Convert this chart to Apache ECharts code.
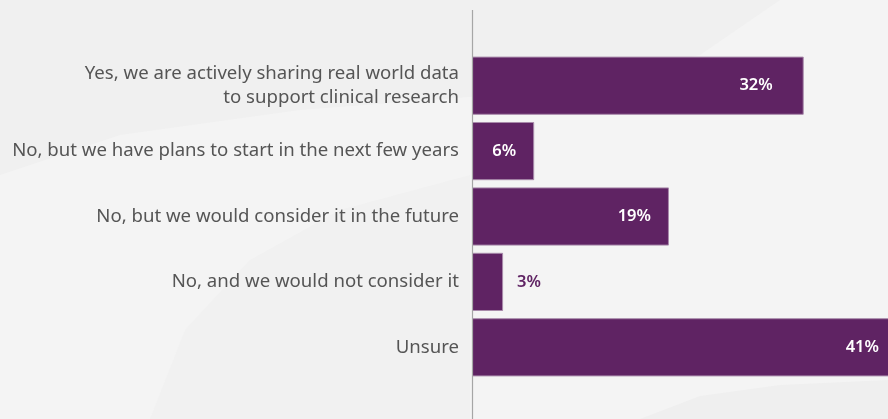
<!DOCTYPE html>
<html>
<head>
<meta charset="utf-8">
<script src="https://cdn.jsdelivr.net/npm/echarts@6/dist/echarts.min.js"></script>
<style>
  html, body { margin: 0; padding: 0; background: #f4f4f4; }
  #chart { width: 888px; height: 419px; }
</style>
</head>
<body>
<div id="chart"></div>
<script>
const categories = [
  'Yes, we are actively sharing real world data\nto support clinical research',
  'No, but we have plans to start in the next few years',
  'No, but we would consider it in the future',
  'No, and we would not consider it',
  'Unsure'
]
const shares = [32, 6, 19, 3, 41]

const purple = '#5f2363'

const chart = echarts.init(document.getElementById('chart'))

chart.setOption({
  backgroundColor: '#f4f4f4',
  animation: false,
  textStyle: { fontFamily: 'Noto Sans' },
  graphic: [
    // faint background swooshes
    {
      type: 'polygon',
      z: -10,
      shape: { points: [[0, 0], [780, 0], [700, 55], [560, 90], [300, 110], [120, 135], [0, 175]] },
      style: { fill: '#f0f0f0' }
    },
    {
      type: 'polygon',
      z: -10,
      shape: { points: [[150, 419], [185, 330], [250, 260], [340, 210], [470, 175], [470, 419]] },
      style: { fill: '#f1f1f1' }
    },
    {
      type: 'polygon',
      z: -10,
      shape: { points: [[640, 419], [700, 396], [780, 385], [888, 380], [888, 419]] },
      style: { fill: '#efefef' }
    },
    // vertical axis line
    {
      type: 'line',
      z: 10,
      shape: { x1: 472.5, y1: 10, x2: 472.5, y2: 419 },
      style: { stroke: '#a6a6a6', lineWidth: 1.2 }
    }
  ],
  grid: {
    left: 472,
    right: -9,
    top: 53,
    bottom: 39,
    outerBoundsMode: 'none'
  },
  xAxis: {
    type: 'value',
    min: 0,
    max: 41,
    show: false
  },
  yAxis: {
    type: 'category',
    inverse: true,
    data: categories,
    axisLine: { show: false },
    axisTick: { show: false },
    axisLabel: {
      margin: 13,
      fontSize: 18.6,
      color: '#555555',
      lineHeight: 24,
      align: 'right'
    }
  },
  series: [{
    type: 'bar',
    barCategoryGap: '11%',
    data: shares.map(v => ({
      value: v,
      label: v < 5
        ? { position: 'right', distance: 14, color: purple }
        : { position: 'insideRight', distance: v === 32 ? 31 : 18, color: '#ffffff' }
    })),
    itemStyle: {
      color: purple,
      borderColor: '#a88aaa',
      borderWidth: 1
    },
    label: {
      show: true,
      fontSize: 16.5,
      fontWeight: 600,
      formatter: '{c}%'
    }
  }]
})
</script>
</body>
</html>
